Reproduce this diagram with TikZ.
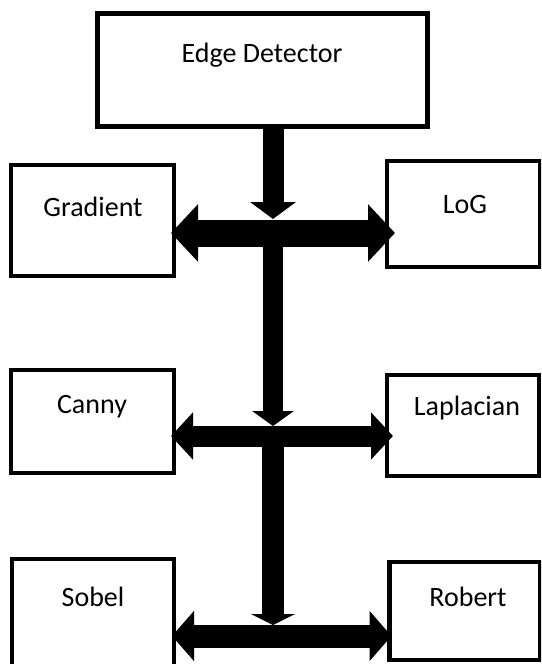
\documentclass[tikz,border=0pt]{standalone}
\usepackage{fontspec}
\setmainfont{Carlito}
\usetikzlibrary{arrows.meta}
\begin{document}
\begin{tikzpicture}[x=1pt,y=-1pt,
  box/.style={draw, line width=4.5pt, outer sep=0pt, inner sep=0pt, fill=white},
  lbl/.style={font=\fontsize{28}{34}\selectfont, inner sep=0pt},
  trunk/.style={line width=#1},
]
\clip (0,0) rectangle (541,664);
\fill[white] (0,0) rectangle (541,664);
% boxes
\node[box, minimum width=330pt, minimum height=113pt] (ed) at (262.5,70) {};
\node[box, minimum width=163pt, minimum height=111pt] (grad) at (92.5,220.5) {};
\node[box, minimum width=153pt, minimum height=106pt] (log) at (463.5,214) {};
\node[box, minimum width=163pt, minimum height=103pt] (canny) at (92.5,421.5) {};
\node[box, minimum width=152pt, minimum height=101pt] (lap) at (463,425.5) {};
\node[box, minimum width=162pt, minimum height=130pt] (sobel) at (93,624) {};
\node[box, minimum width=151pt, minimum height=98pt] (rob) at (465,611) {};
% labels
\node[lbl] (edt) at (262,55) {Edge Detector};
\node[lbl] (gradt) at (93,207) {Gradient};
\node[lbl] (logt) at (465,205) {LoG};
\node[lbl] (cannyt) at (92,407) {Canny};
\node[lbl] (lapt) at (467,408) {Laplacian};
\node[lbl] (sobelt) at (93,597) {Sobel};
\node[lbl] (robt) at (468,597) {Robert};
% junctions
\coordinate (t0) at (273,126);
\coordinate (h1) at (273,233);
\coordinate (h1t) at (273,219);
\coordinate (h2) at (273,436);
\coordinate (h2t) at (273,426);
\coordinate (h3) at (273,636);
\coordinate (h3t) at (273,625);
% vertical arrows
\draw[line width=21pt, -{Triangle[width=45pt,length=17pt]}] (t0) -- (h1t);
\draw[line width=20pt, -{Triangle[width=41pt,length=15pt]}] (h1) -- (h2t);
\draw[line width=22pt, -{Triangle[width=44pt,length=11pt]}] (h2) -- (h3t);
% horizontal double arrows
\draw[line width=27pt, {Triangle[width=56pt,length=27pt]}-{Triangle[width=56pt,length=27pt]}]
  ([xshift=-3pt]grad.east |- h1) -- ([xshift=8pt]log.west |- h1);
\draw[line width=21pt, {Triangle[width=46pt,length=22pt]}-{Triangle[width=46pt,length=22pt]}]
  ([xshift=-3pt]canny.east |- h2) -- ([xshift=6pt]lap.west |- h2);
\draw[line width=23pt, {Triangle[width=49pt,length=22pt]}-{Triangle[width=49pt,length=22pt]}]
  ([xshift=-2pt]sobel.east |- h3) -- ([xshift=2pt]rob.west |- h3);
\end{tikzpicture}
\end{document}
